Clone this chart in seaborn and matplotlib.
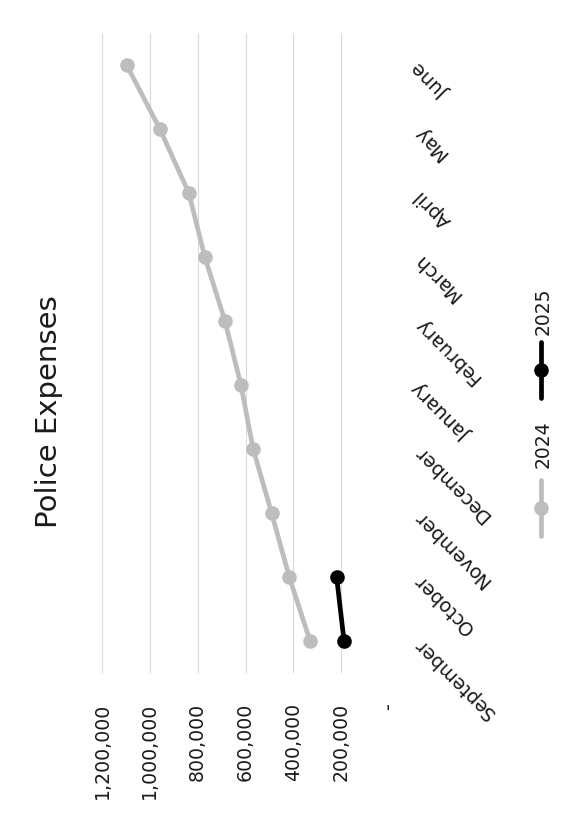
import matplotlib
matplotlib.use("Agg")
import matplotlib.pyplot as plt
from matplotlib.lines import Line2D
from matplotlib.ticker import FuncFormatter
import seaborn as sns
import pandas as pd

# Monthly police expenses, fiscal year September to June
months = ["September", "October", "November", "December", "January",
          "February", "March", "April", "May", "June"]
expenses_2024 = [330000, 417000, 491000, 568000, 619000,
                 686000, 770000, 837000, 958000, 1097000]
expenses_2025 = [188000, 219000]
years = ["2024", "2025"]
value_ticks = [0, 200000, 400000, 600000, 800000, 1000000, 1200000]
title = "Police Expenses"

colors = {"2024": "#bdbdbd", "2025": "#000000"}
text_color = "#1a1a1a"

df = pd.concat([
    pd.DataFrame({"Month": months[:len(expenses_2024)],
                  "Expenses": expenses_2024, "Year": "2024"}),
    pd.DataFrame({"Month": months[:len(expenses_2025)],
                  "Expenses": expenses_2025, "Year": "2025"}),
], ignore_index=True)

sns.set_style("white")
plt.rcParams["font.family"] = ["DejaVu Sans"]

fig = plt.figure(figsize=(5.82, 8.25), dpi=100)
W, H = 582, 825
# The sheet is printed sideways: values run right-to-left, months bottom-to-top
ax = fig.add_axes([102 / W, 1 - 673 / H, (389 - 102) / W, (673 - 33) / H])

sns.pointplot(data=df, x="Expenses", y="Month", hue="Year",
              order=months[::-1], hue_order=years, palette=colors,
              orient="h", errorbar=None, dodge=False, legend=False,
              markers="o", linestyles="-", markersize=10.5, linewidth=3.4,
              markeredgewidth=0, ax=ax)

ax.set_xlim(max(value_ticks), 0)
ax.set_xticks(value_ticks)
ax.xaxis.set_major_formatter(
    FuncFormatter(lambda v, _: "-" if v == 0 else f"{v:,.0f}"))
ax.tick_params(axis="x", length=0, pad=21.5, labelsize=13.6,
               labelcolor=text_color, labelrotation=90)
for lbl in ax.get_xticklabels():
    lbl.set_va("top")

ax.yaxis.tick_right()
ax.tick_params(axis="y", length=0, pad=20, labelsize=13.8,
               labelcolor=text_color)
for lbl in ax.get_yticklabels():
    lbl.set_rotation(135)
    lbl.set_rotation_mode("anchor")
    lbl.set_ha("right")
    lbl.set_va("center")

ax.set_xlabel("")
ax.set_ylabel("")
for s in ax.spines.values():
    s.set_visible(False)
ax.grid(axis="x", color="#dadada", linewidth=0.8)
ax.grid(axis="y", visible=False)
ax.set_axisbelow(True)

fig.text(49 / W, 1 - 412 / H, title, rotation=90, ha="center", va="center",
         fontsize=21, color=text_color)

# Legend drawn sideways to follow the page orientation
legend_items = [("2024", 508, 444), ("2025", 370, 311)]
for year, marker_y, text_y in legend_items:
    x = 541 / W
    fig.add_artist(Line2D([x, x], [1 - (marker_y + 28) / H, 1 - (marker_y - 28) / H],
                          transform=fig.transFigure, color=colors[year],
                          linewidth=3.4, solid_capstyle="round"))
    fig.add_artist(Line2D([x], [1 - marker_y / H], transform=fig.transFigure,
                          color=colors[year], marker="o", markersize=10.5,
                          markeredgewidth=0, linestyle="none"))
    fig.text(543 / W, 1 - text_y / H, year, rotation=90, ha="center",
             va="center", fontsize=13.5, color=text_color)

fig.savefig("out.png", dpi=100)
